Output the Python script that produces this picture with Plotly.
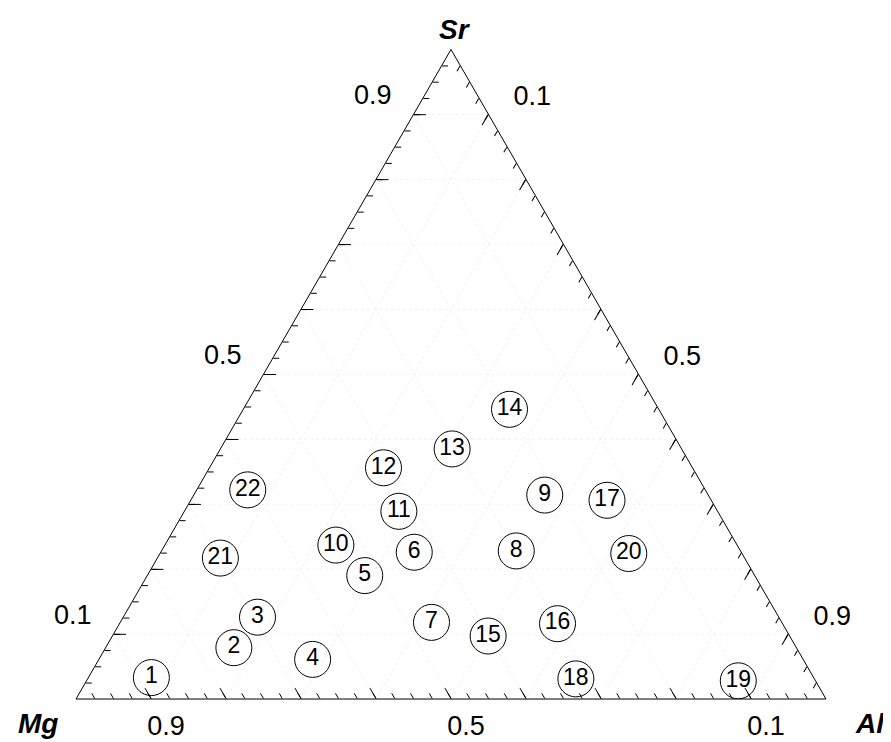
import plotly.graph_objects as go

# sample numbers and their Sr / Mg / Al fractions
labels = [str(i) for i in range(1, 23)]
sr = [0.033, 0.079, 0.126, 0.061, 0.190, 0.226, 0.118, 0.228, 0.314, 0.237, 0.289,
      0.356, 0.385, 0.446, 0.097, 0.116, 0.306, 0.031, 0.028, 0.224, 0.217, 0.322]
mg = [0.883, 0.750, 0.695, 0.654, 0.520, 0.436, 0.467, 0.299, 0.218, 0.535, 0.425,
      0.412, 0.306, 0.199, 0.402, 0.300, 0.139, 0.318, 0.103, 0.151, 0.699, 0.610]
al = [0.084, 0.171, 0.179, 0.285, 0.290, 0.338, 0.415, 0.473, 0.468, 0.228, 0.286,
      0.232, 0.309, 0.355, 0.501, 0.584, 0.555, 0.651, 0.869, 0.625, 0.084, 0.068]

major_ticks = [0.1, 0.2, 0.3, 0.4, 0.5, 0.6, 0.7, 0.8, 0.9]
minor_ticks = [round(0.025 * i, 3) for i in range(1, 40)]
label_ticks = [0.1, 0.5, 0.9]
label_text = ['0.1', '0.5', '0.9']

FONT = 'Liberation Sans, Arial, sans-serif'

fig = go.Figure()

fig.add_trace(go.Scatterternary(
    a=sr, b=mg, c=al, text=labels,
    mode='markers+text',
    marker=dict(symbol='circle-open', size=36, color='black', line=dict(width=1, color='black')),
    textposition='middle center',
    textfont=dict(family=FONT, size=23, color='black'),
    hoverinfo='text',
    showlegend=False,
    subplot='ternary'
))

# empty traces so that the overlay subplots (small ticks, tick labels) are drawn
for sp in ['ternary2', 'ternary3', 'ternary4', 'ternary5']:
    fig.add_trace(go.Scatterternary(a=[], b=[], c=[], mode='markers', showlegend=False,
                                    subplot=sp))


def major_axis():
    return dict(
        tickmode='array', tickvals=major_ticks, showticklabels=False,
        ticks='inside', ticklen=12, tickwidth=1, tickcolor='black',
        linecolor='black', linewidth=1, showline=True,
        showgrid=True, gridcolor='#f1f1f1', griddash='dot', gridwidth=1,
        title=dict(text=''), min=0
    )


def minor_axis():
    return dict(
        tickmode='array', tickvals=minor_ticks, showticklabels=False,
        ticks='inside', ticklen=6, tickwidth=1, tickcolor='black',
        showline=False, showgrid=False, title=dict(text=''), min=0
    )


def label_axis(pad, show=True):
    return dict(
        tickmode='array', tickvals=label_ticks, ticktext=label_text,
        showticklabels=show,
        ticks='outside', ticklen=pad, tickcolor='rgba(0,0,0,0)',
        tickfont=dict(family=FONT, size=27, color='black'),
        showline=False, showgrid=False, title=dict(text=''), min=0
    )


W, H = 891, 742
dom = dict(x=[0.0763, 0.9181], y=[0.0687, 0.9441])


def shifted(dx, dy):
    # same triangle, moved by dx, dy pixels (used only for the tick label overlays)
    return dict(x=[dom['x'][0] + dx / W, dom['x'][1] + dx / W],
                y=[dom['y'][0] - dy / H, dom['y'][1] - dy / H])


fig.update_layout(
    width=W, height=H,
    paper_bgcolor='white',
    margin=dict(l=0, r=0, t=0, b=0),
    ternary=dict(sum=1, bgcolor='white', domain=dom,
                 aaxis=major_axis(), baxis=major_axis(), caxis=major_axis()),
    ternary2=dict(sum=1, bgcolor='rgba(0,0,0,0)', domain=dom,
                  aaxis=minor_axis(), baxis=minor_axis(), caxis=minor_axis()),
    # bottom (Mg) labels
    ternary3=dict(sum=1, bgcolor='rgba(0,0,0,0)', domain=shifted(15, 2),
                  aaxis=label_axis(0, False), baxis=label_axis(0),
                  caxis=label_axis(0, False)),
    # left (Sr) labels, a little above their ticks
    ternary4=dict(sum=1, bgcolor='rgba(0,0,0,0)', domain=shifted(0, -17),
                  aaxis=label_axis(18), baxis=label_axis(0, False),
                  caxis=label_axis(0, False)),
    # right (Al) labels
    ternary5=dict(sum=1, bgcolor='rgba(0,0,0,0)', domain=shifted(8, 7),
                  aaxis=label_axis(0, False), baxis=label_axis(0, False),
                  caxis=label_axis(26)),
    font=dict(family=FONT, color='black')
)

# vertex names
title_font = dict(family=FONT, size=28, color='black')
for name, px_x, px_y in [('Sr', 447, 22), ('Mg', 30, 715), ('Al', 862, 715)]:
    fig.add_annotation(text='<b><i>' + name + '</i></b>', x=px_x / W, y=1 - px_y / H,
                       xref='paper', yref='paper', xanchor='center', yanchor='middle',
                       showarrow=False, font=title_font)

fig.write_html("out.html")
